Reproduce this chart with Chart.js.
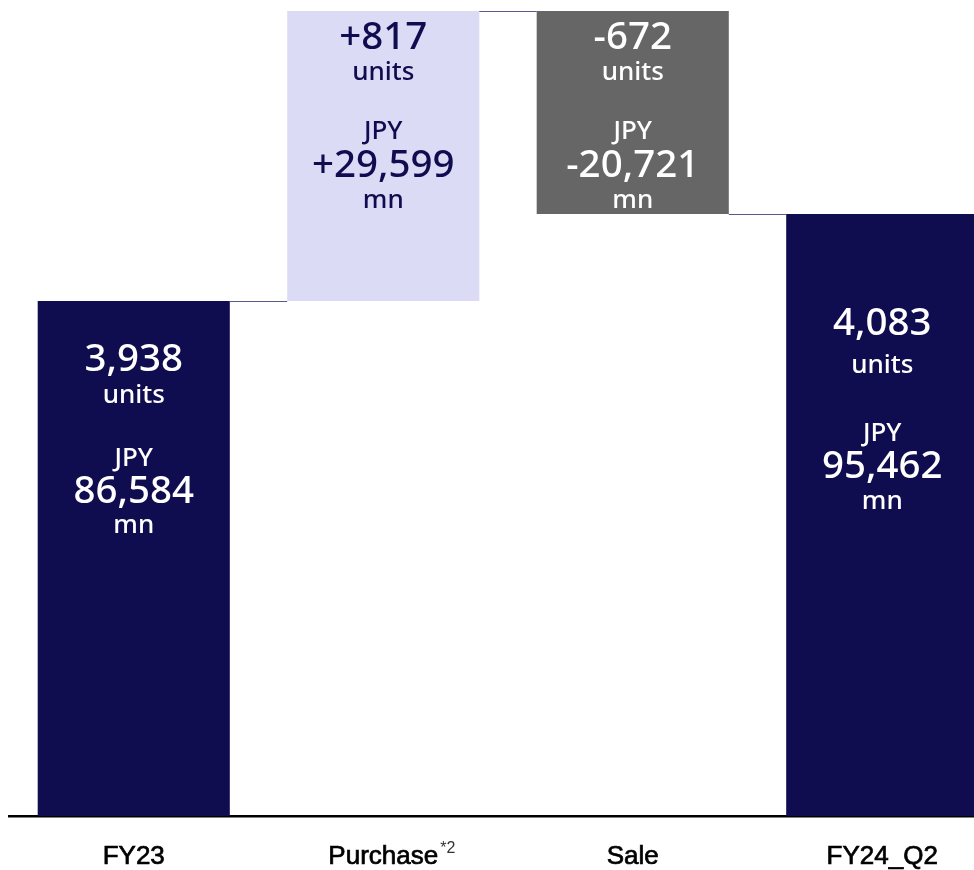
<!DOCTYPE html>
<html>
<head>
<meta charset="utf-8">
<script src="https://cdn.jsdelivr.net/npm/chart.js@4/dist/chart.umd.min.js"></script>
<style>
  html, body { margin: 0; padding: 0; background: #ffffff; overflow: hidden; }
  #wrap { width: 1007px; height: 870px; position: relative; }
</style>
</head>
<body>
<div id="wrap"><canvas id="chart"></canvas></div>
<script>
// Inventory bridge: opening balance, purchases, sales, closing balance
const categories = ['FY23', 'Purchase', 'Sale', 'FY24_Q2'];
const categoryNotes = ['', '*2', '', ''];
const stepKinds = ['total', 'delta', 'delta', 'total'];
const unitValues = [3938, 817, -672, 4083];
const jpyValues = [86584, 29599, -20721, 95462]; // JPY mn

const NAVY = '#100c50';
const LAVENDER = '#dcdbf6';
const GREY = '#666666';

// floating bar ranges for the waterfall
const ranges = [];
let running = 0;
jpyValues.forEach((v, i) => {
  if (stepKinds[i] === 'total') {
    ranges.push([0, v]);
    running = v;
  } else {
    ranges.push([running, running + v]);
    running += v;
  }
});

const barColors = jpyValues.map((v, i) =>
  stepKinds[i] === 'total' ? NAVY : (v >= 0 ? LAVENDER : GREY));
const textColors = jpyValues.map((v, i) =>
  stepKinds[i] === 'delta' && v >= 0 ? NAVY : '#ffffff');

const fmt = (v, signed) => {
  const s = Math.abs(v).toLocaleString('en-US');
  if (!signed) return (v < 0 ? '-' : '') + s;
  return (v >= 0 ? '+' : '-') + s;
};

// vertical placement of the label block inside each bar
const labelTop = [59, 27, 27, 110];
const lineSteps = [
  [0, 36, 99, 132, 166],
  [0, 35, 94, 128, 163],
  [0, 35, 94, 128, 163],
  [0, 42, 110, 143, 178]
];
const BIG = '500 38.5px "Noto Sans", sans-serif';
const SMALL = '500 26px "Noto Sans", sans-serif';
const TICK_FAMILY = '"Liberation Sans", Arial, sans-serif';

const barLabels = {
  id: 'barLabels',
  afterDatasetsDraw(chart) {
    const ctx = chart.ctx;
    const meta = chart.getDatasetMeta(0);
    meta.data.forEach((bar, i) => {
      const top = Math.min(bar.y, bar.base);
      const signed = stepKinds[i] === 'delta';
      const lines = [
        [fmt(unitValues[i], signed), BIG],
        ['units', SMALL],
        ['JPY', SMALL],
        [fmt(jpyValues[i], signed), BIG],
        ['mn', SMALL]
      ];
      ctx.save();
      ctx.fillStyle = textColors[i];
      ctx.textAlign = 'center';
      ctx.textBaseline = 'middle';
      lines.forEach(([txt, font], k) => {
        ctx.font = font;
        ctx.fillText(txt, bar.x, top + labelTop[i] + lineSteps[i][k]);
      });
      ctx.restore();
    });
  }
};

// thin connectors between consecutive steps, plus footnote marks on labels
const connectors = {
  id: 'connectors',
  afterDatasetsDraw(chart) {
    const ctx = chart.ctx;
    const meta = chart.getDatasetMeta(0);
    const y = chart.scales.y;
    ctx.save();
    ctx.strokeStyle = '#5b5a8c';
    ctx.lineWidth = 1;
    for (let i = 0; i < meta.data.length - 1; i++) {
      const a = meta.data[i], b = meta.data[i + 1];
      const level = ranges[i][1];
      const py = Math.round(y.getPixelForValue(level)) + 0.5;
      ctx.beginPath();
      ctx.moveTo(a.x + a.width / 2, py);
      ctx.lineTo(b.x - b.width / 2, py);
      ctx.stroke();
    }
    ctx.restore();
  },
  afterDraw(chart) {
    const ctx = chart.ctx;
    const x = chart.scales.x;
    ctx.save();
    categoryNotes.forEach((note, i) => {
      if (!note) return;
      ctx.font = '26px ' + TICK_FAMILY;
      const w = ctx.measureText(categories[i]).width;
      const cx = x.getPixelForValue(i);
      ctx.font = '16px ' + TICK_FAMILY;
      ctx.fillStyle = '#333333';
      ctx.textAlign = 'left';
      ctx.textBaseline = 'middle';
      ctx.fillText(note, cx + w / 2 + 2, 849);
    });
    ctx.restore();
  }
};

new Chart(document.getElementById('chart'), {
  type: 'bar',
  data: {
    labels: categories,
    datasets: [{
      data: ranges,
      backgroundColor: barColors,
      borderWidth: 0,
      borderSkipped: false,
      categoryPercentage: 1,
      barPercentage: 0.77
    }]
  },
  options: {
    responsive: true,
    maintainAspectRatio: false,
    animation: false,
    layout: { padding: { left: 9, right: 0, top: 0, bottom: 0 } },
    plugins: { legend: { display: false }, tooltip: { enabled: false } },
    scales: {
      x: {
        grid: { display: false, drawTicks: false },
        border: { display: true, color: '#000000', width: 2.5 },
        ticks: {
          color: '#000000',
          textStrokeColor: '#000000',
          textStrokeWidth: 0.7,
          font: { family: TICK_FAMILY, size: 26 },
          padding: 25,
          maxRotation: 0
        },
        afterFit(scale) { scale.height = 54; }
      },
      y: {
        display: false,
        min: 34000,
        max: 117300
      }
    }
  },
  plugins: [barLabels, connectors]
});
</script>
</body>
</html>
